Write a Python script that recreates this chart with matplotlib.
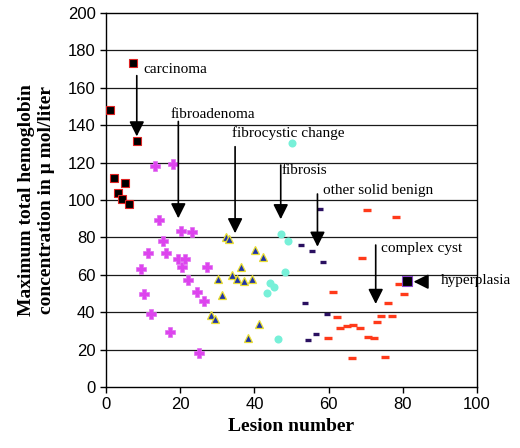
import matplotlib
matplotlib.use("Agg")
import matplotlib.pyplot as plt

# ---- data ----
carcinoma_x = [1.1, 2.2, 3.3, 4.2, 5.2, 6.2, 7.2, 8.3]
carcinoma_y = [148, 111.6, 104, 100.5, 109, 98, 173, 131.5]

fibroadenoma_x = [9.4, 10.2, 11.2, 12.2, 13.2, 14.4, 15.3, 16.3, 17.2, 18.1,
                  19.3, 20.3, 20.4, 21.3, 22.2, 23.3, 24.4, 25.2, 26.4, 27.2]
fibroadenoma_y = [63, 49.7, 71.5, 38.9, 118, 89.3, 78.3, 71.5, 29.2, 119,
                  68.6, 83.4, 64, 68.6, 57, 83, 51, 18.3, 46.2, 64]

fibrocystic_x = [28.2, 29.4, 30.3, 31.3, 32.3, 33.2, 34.1, 35.4, 36.3, 37.3,
                 38.3, 39.3, 40.3, 41.3, 42.2]
fibrocystic_y = [38.7, 36.4, 57.5, 49, 80, 79.4, 60, 57.5, 64, 56.5,
                 26, 57.6, 73, 33.7, 69.5]

fibrosis_x = [43.3, 44.2, 45.3, 46.4, 47.1, 48.2, 49.1, 50.1]
fibrosis_y = [50, 55.4, 53.3, 25.7, 81.8, 61.5, 78.2, 130.6]

other_x = [52.6, 53.6, 54.4, 55.4, 56.6, 57.7, 58.6, 59.5]
other_y = [75.9, 45.1, 25.1, 72.9, 28.3, 95, 66.6, 39.2]

cyst_x = [59.9, 61.3, 62.3, 63.1, 64.9, 66.2, 66.7, 68.5, 68.9, 70.3,
          70.7, 72.2, 73.0, 74.0, 75.2, 76.1, 77.2, 78.2, 79.1, 80.2]
cyst_y = [26, 51, 37.2, 31.7, 32.8, 15.7, 33, 31.7, 69.2, 94.7,
          26.9, 26.2, 34.9, 38, 16.2, 45.1, 38, 91, 55.3, 49.7]

hyper_x = [81]
hyper_y = [56.5]

x_ticks = [0, 20, 40, 60, 80, 100]
y_ticks = [0, 20, 40, 60, 80, 100, 120, 140, 160, 180, 200]

# annotations: label, text position, arrow start, arrow tip
labels = ["carcinoma", "fibroadenoma", "fibrocystic change", "fibrosis",
          "other solid benign", "complex cyst", "hyperplasia"]
label_pos = [(10.0, 170.0), (17.3, 145.5), (33.9, 135.6), (47.4, 116),
             (58.6, 105.3), (74.0, 73.8), (90.2, 56.8)]
arrow_from = [(8.3, 166.5), (19.5, 142), (34.8, 128.5), (47.1, 118.7),
              (57.0, 103.2), (72.7, 75.9), (86.3, 56.3)]
arrow_to = [(8.3, 134), (19.5, 90.2), (34.8, 82.2), (47.1, 89.7),
            (57.0, 75), (72.7, 44.4), (82.9, 56.3)]

fig = plt.figure(figsize=(5.2, 4.48), dpi=100)
ax = fig.add_axes([0.2038, 0.1362, 0.7135, 0.8348])

for gy in y_ticks[1:-1]:
    ax.axhline(gy, color="#1a1a1a", lw=0.9, zorder=1)

ax.plot(carcinoma_x, carcinoma_y, ls="none", marker="s", ms=5.2,
        mfc="black", mec="#dd2222", mew=0.8, zorder=3)
ax.plot(fibroadenoma_x, fibroadenoma_y, ls="none", marker="P", ms=6.5,
        mfc="#dd44ee", mec="#e070f0", mew=0.5, zorder=3)
ax.plot(fibrocystic_x, fibrocystic_y, ls="none", marker="^", ms=6,
        mfc="#1f33a8", mec="#e8dd30", mew=0.9, zorder=3)
ax.plot(fibrosis_x, fibrosis_y, ls="none", marker="o", ms=5.8,
        mfc="#77f0d8", mec="#77f0d8", mew=0, zorder=3)
ax.plot(other_x, other_y, ls="none", marker="_", ms=4.5,
        mec="#2a1060", mew=2.4, zorder=3)
ax.plot(cyst_x, cyst_y, ls="none", marker="_", ms=5.5,
        mec="#ff3a1a", mew=2.4, zorder=3)
ax.plot(hyper_x, hyper_y, ls="none", marker="s", ms=7.2,
        mfc="black", mec="#8844cc", mew=0.8, zorder=4)

for lab, tp, a0, a1 in zip(labels, label_pos, arrow_from, arrow_to):
    ax.text(tp[0], tp[1], lab, ha="left", va="center", fontsize=11,
            family="Liberation Serif", clip_on=False, zorder=5)
    ax.annotate("", xy=a1, xytext=a0,
                arrowprops=dict(arrowstyle="-|>,head_length=0.9,head_width=0.45",
                                color="black", lw=1.2, shrinkA=0, shrinkB=0),
                annotation_clip=False, zorder=5)

ax.set_xlim(0, 100)
ax.set_ylim(0, 200)
ax.set_xticks(x_ticks)
ax.set_yticks(y_ticks)
ax.tick_params(direction="out", length=4, width=1, labelsize=12)
for lbl in ax.get_xticklabels() + ax.get_yticklabels():
    lbl.set_family("Liberation Sans")
for s in ax.spines.values():
    s.set_color("black")
    s.set_linewidth(1.0)

ax.set_xlabel("Lesion number", fontsize=14, fontweight="bold",
              family="Liberation Serif", labelpad=4)
ax.set_ylabel("Maximum total hemoglobin\nconcentration in \u03bc mol/liter",
              fontsize=14, fontweight="bold", family="Liberation Serif",
              labelpad=9, linespacing=1.25)

fig.savefig("out.png", dpi=100)
